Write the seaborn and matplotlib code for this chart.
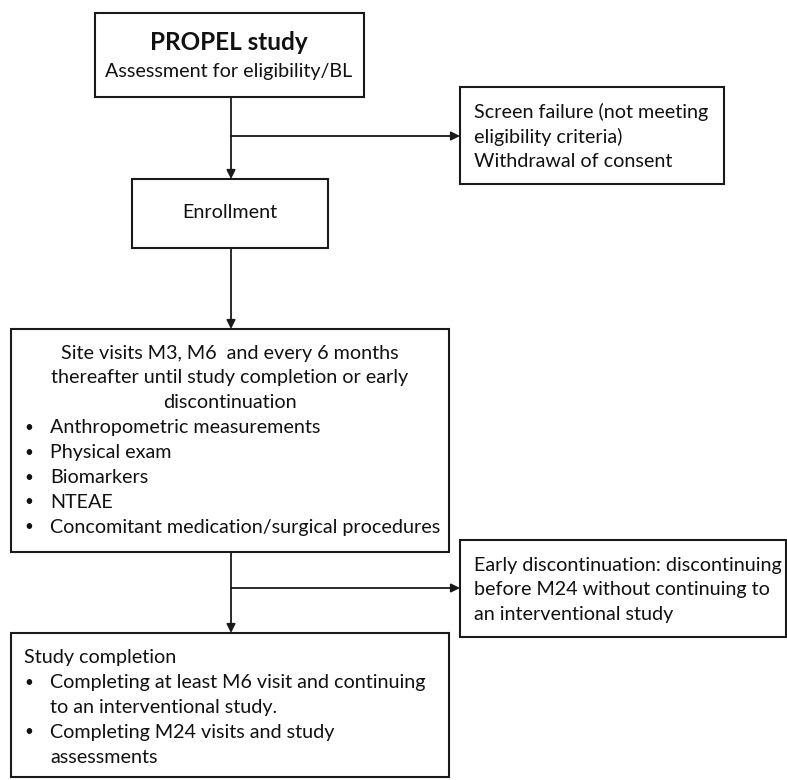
import matplotlib
matplotlib.use("Agg")
import matplotlib.pyplot as plt
from matplotlib.patches import Rectangle
import seaborn as sns

# flowchart text
title = "PROPEL study"
start_sub = "Assessment for eligibility/BL"
screen_lines = ["Screen failure (not meeting", "eligibility criteria)", "Withdrawal of consent"]
enroll_label = "Enrollment"
visit_header = ["Site visits M3, M6  and every 6 months",
                "thereafter until study completion or early",
                "discontinuation"]
visit_items = ["Anthropometric measurements", "Physical exam", "Biomarkers",
               "NTEAE", "Concomitant medication/surgical procedures"]
early_lines = ["Early discontinuation: discontinuing",
               "before M24 without continuing to",
               "an interventional study"]
done_header = "Study completion"
done_items = [["Completing at least M6 visit and continuing", "to an interventional study."],
              ["Completing M24 visits and study", "assessments"]]

sns.set_style("white")
plt.rcParams['font.family'] = ['Lato', 'DejaVu Sans']

fig = plt.figure(figsize=(7.87, 7.80), dpi=100)
ax = fig.add_axes([0, 0, 1, 1])
ax.set_xlim(0, 787)
ax.set_ylim(780, 0)
ax.axis("off")

ec = "#1a1a1a"
tc = "#111111"
fs = 14.2
lh = 24.8


def box(x0, y0, x1, y1):
    ax.add_patch(Rectangle((x0, y0), x1 - x0, y1 - y0, fill=False,
                           edgecolor=ec, linewidth=1.5))


def arrow(x0, y0, x1, y1):
    ax.annotate("", xy=(x1, y1), xytext=(x0, y0),
                arrowprops=dict(arrowstyle="-|>", color=ec, lw=1.3,
                                mutation_scale=13, shrinkA=0, shrinkB=0))


def bullet(y):
    ax.text(29, y, "\u2022", ha="center", va="center", fontsize=11, color=tc)


# boxes
box(95, 13, 364, 97)
box(460, 87, 724, 184)
box(132, 179, 328, 248)
box(11, 329, 449, 552)
box(460, 540, 786, 637)
box(11, 633, 449, 777)

# connectors
ax.plot([231, 231], [97, 136], color=ec, lw=1.3)
arrow(231, 136, 231, 179)
arrow(231, 136, 460, 136)
arrow(231, 248, 231, 329)
ax.plot([231, 231], [552, 588], color=ec, lw=1.3)
arrow(231, 588, 231, 633)
arrow(231, 588, 460, 588)

# start box
ax.text(229, 42, title, ha="center", va="center", fontsize=17.5, fontweight="bold", color=tc)
ax.text(229, 72, start_sub, ha="center", va="center", fontsize=fs, color=tc)

# screen failure
for i, s in enumerate(screen_lines):
    ax.text(474, 112 + i * lh, s, ha="left", va="center", fontsize=fs, color=tc)

ax.text(230, 213, enroll_label, ha="center", va="center", fontsize=fs, color=tc)

# site visits
for i, s in enumerate(visit_header):
    ax.text(230, 353 + i * lh, s, ha="center", va="center", fontsize=fs, color=tc)
for i, s in enumerate(visit_items):
    y = 428 + i * lh
    bullet(y)
    ax.text(50, y, s, ha="left", va="center", fontsize=fs, color=tc)

# early discontinuation
for i, s in enumerate(early_lines):
    ax.text(474, 565 + i * lh, s, ha="left", va="center", fontsize=fs, color=tc)

# study completion
ax.text(24, 658, done_header, ha="left", va="center", fontsize=fs, color=tc)
row = 1
for item in done_items:
    bullet(658 + row * lh)
    for s in item:
        ax.text(50, 658 + row * lh, s, ha="left", va="center", fontsize=fs, color=tc)
        row += 1

fig.savefig("out.png", dpi=100)
